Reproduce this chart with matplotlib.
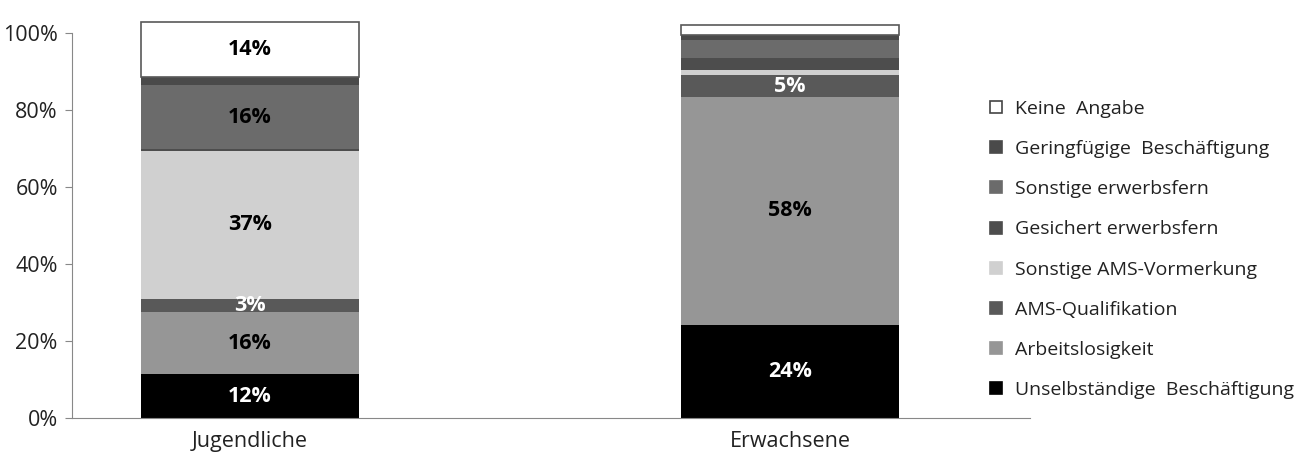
import numpy as np
import matplotlib
matplotlib.use('Agg')
import matplotlib.pyplot as plt
from matplotlib.lines import Line2D

plt.rcParams['font.family'] = ['Open Sans', 'DejaVu Sans']

# Categories and series (bottom to top), segment heights
groups = ['Jugendliche', 'Erwachsene']
series = [
    'Unselbständige  Beschäftigung',
    'Arbeitslosigkeit',
    'AMS-Qualifikation',
    'Sonstige AMS-Vormerkung',
    'Gesichert erwerbsfern',
    'Sonstige erwerbsfern',
    'Geringfügige  Beschäftigung',
    'Keine  Angabe',
]
jugendliche = [11.4, 16.3, 3.3, 38.5, 0.4, 16.6, 2.1, 14.4]
erwachsene = [24.2, 59.3, 5.6, 1.3, 3.3, 4.5, 1.5, 2.4]

# Printed labels (empty = not shown)
labels_jug = ['12%', '16%', '3%', '37%', '', '16%', '', '14%']
labels_erw = ['24%', '58%', '5%', '', '', '', '', '']

colors = ['#000000', '#969696', '#595959', '#d0d0d0', '#4d4d4d', '#6b6b6b', '#4a4a4a', '#ffffff']
label_colors = ['white', 'black', 'white', 'black', 'white', 'black', 'white', 'black']

fig = plt.figure(figsize=(13.06, 4.55), dpi=100)
ax = fig.add_axes([0.0549, 0.0807, 0.7338, 0.8883])

x = np.arange(len(groups))
width = 0.404
data = np.array([jugendliche, erwachsene])
bottoms = np.zeros(len(groups))

for i, name in enumerate(series):
    vals = data[:, i]
    edge = '#595959' if colors[i] == '#ffffff' else colors[i]
    ax.bar(x, vals, width, bottom=bottoms, color=colors[i], edgecolor=edge,
           linewidth=1.2 if colors[i] == '#ffffff' else 0, zorder=2)
    for j, lab in enumerate([labels_jug[i], labels_erw[i]]):
        if lab:
            ax.text(x[j], bottoms[j] + vals[j] / 2, lab, ha='center', va='center',
                    fontsize=15.5, fontweight='bold', color=label_colors[i], zorder=3)
    bottoms += vals

ax.set_xlim(-0.33, 1.444)
ax.set_ylim(0, 105)
ax.set_yticks([0, 20, 40, 60, 80, 100])
ax.set_yticklabels(['0%', '20%', '40%', '60%', '80%', '100%'], fontsize=15.5, color='#222222')
ax.set_xticks(x)
ax.set_xticklabels(groups, fontsize=15.5, color='#222222')
ax.tick_params(axis='x', length=0, pad=9)
ax.tick_params(axis='y', length=5, color='#888888', pad=5)

for s in ['top', 'right']:
    ax.spines[s].set_visible(False)
ax.spines['left'].set_bounds(0, 100)
ax.spines['left'].set_color('#888888')
ax.spines['bottom'].set_color('#888888')

# Legend: reversed order, small square markers
handles = []
for i in reversed(range(len(series))):
    handles.append(Line2D([], [], marker='s', linestyle='none', markersize=8.5,
                          markerfacecolor=colors[i],
                          markeredgecolor='#444444' if colors[i] == '#ffffff' else colors[i],
                          markeredgewidth=1.2, label=series[i]))
fig.legend(handles=handles, loc='upper left', bbox_to_anchor=(0.7401, 0.819),
           frameon=False, fontsize=14, labelspacing=1.14, handletextpad=0.4,
           handlelength=1.2, labelcolor='#222222')

fig.savefig('out.png', dpi=100)
